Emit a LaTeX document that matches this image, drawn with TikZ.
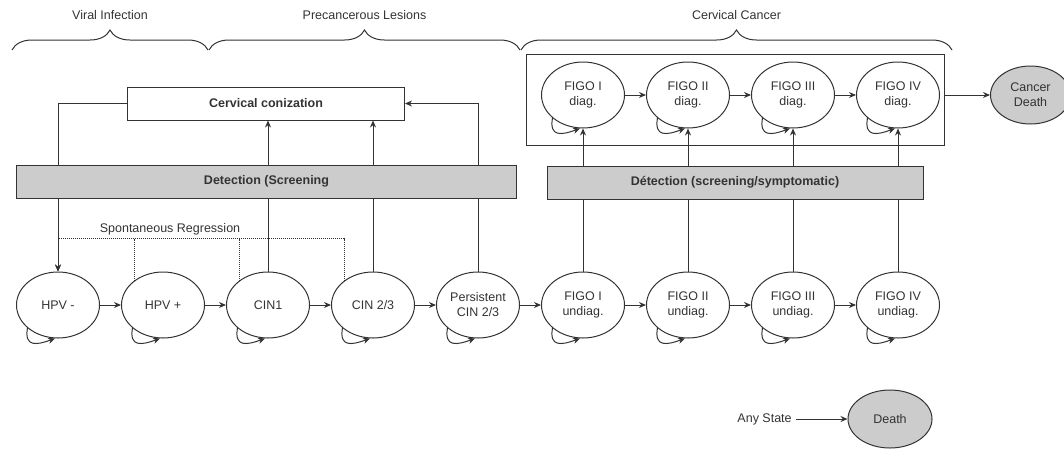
\documentclass[tikz,border=0pt]{standalone}
\usepackage{fontspec}
\setmainfont{Liberation Sans}
\usetikzlibrary{positioning,shapes.geometric,arrows.meta,decorations.pathreplacing}
\tikzset{
	%Diagram styles
	state/.style={
		draw,
		ellipse,
		minimum width=83pt,
		minimum height=66pt,
		inner sep=0pt,
		align=center,
	},
	endstate/.style={
		state,
		fill=gray!40,
		minimum width=80pt,
		minimum height=58pt,
	},
	detection/.style={
		draw,
		rectangle,
		fill=gray!40,
		minimum height=33pt,
		font=\fontsize{12.5}{15}\selectfont\bfseries,
	},
	treatment/.style={
		draw,
		rectangle,
		minimum width=277pt,
		minimum height=33pt,
		font=\fontsize{12.5}{15}\selectfont\bfseries,
	},
	stage/.style={
		decorate,
		decoration={brace, amplitude=20pt},
	},
	selfloop/.style={
		->,
		out=-100,
		in=-160,
		looseness=1.7,
	},
	regression/.style={
		densely dotted,
	},
}

\begin{document}
\begin{tikzpicture}[x=1pt, y=-1pt, node distance=21pt, line width=1pt, color=black!80, >={Stealth[length=7pt,width=6pt]}, font=\fontsize{12.5}{15}\selectfont]
	\useasboundingbox (0,0) rectangle (1064,448);

	% stages
	\draw[stage] (12,50) -- node[above=27pt] (viral) {Viral Infection} (208,50);
	\draw[stage] (209,50) -- node[above=27pt] (lesions) {Precancerous Lesions} (520,50);
	\draw[stage] (521,50) -- node[above=27pt] (cancer) {Cervical Cancer} (952,50);

	% undiagnosed states
	\node[state] (hpvneg) at (58,305) {HPV -};
	\node[state, right=of hpvneg] (hpvpos) {HPV +} edge[<-] (hpvneg);
	\node[state, right=of hpvpos] (cin1) {CIN1} edge[<-] (hpvpos);
	\node[state, right=of cin1] (cin23) {CIN 2/3} edge[<-] (cin1);
	\node[state, right=of cin23] (cinpers) {Persistent\\CIN 2/3} edge[<-] (cin23);
	\node[state, right=of cinpers] (figoIu) {FIGO I\\undiag.} edge[<-] (cinpers);
	\node[state, right=of figoIu] (figoIIu) {FIGO II\\undiag.} edge[<-] (figoIu);
	\node[state, right=of figoIIu] (figoIIIu) {FIGO III\\undiag.} edge[<-] (figoIIu);
	\node[state, right=of figoIIIu] (figoIVu) {FIGO IV\\undiag.} edge[<-] (figoIIIu);

	% diagnosed states
	\node[draw, minimum width=418pt, minimum height=91pt] (diagbox) at (735,99.5) {};
	\node[state, above=143pt of figoIu] (figoId) {FIGO I\\diag.};
	\node[state, right=of figoId] (figoIId) {FIGO II\\diag.} edge[<-] (figoId);
	\node[state, right=of figoIId] (figoIIId) {FIGO III\\diag.} edge[<-] (figoIId);
	\node[state, right=of figoIIId] (figoIVd) {FIGO IV\\diag.} edge[<-] (figoIIId);
	\node[endstate, right=50pt of figoIVd] (cancerdeath) {Cancer\\Death};
	\draw[->] (diagbox.east |- cancerdeath.west) -- (cancerdeath.west);

	% self loops
	\draw[selfloop] (hpvneg.217) to (hpvneg.265);
	\draw[selfloop] (hpvpos.217) to (hpvpos.265);
	\draw[selfloop] (cin1.217) to (cin1.265);
	\draw[selfloop] (cin23.217) to (cin23.265);
	\draw[selfloop] (cinpers.217) to (cinpers.265);
	\draw[selfloop] (figoIu.217) to (figoIu.265);
	\draw[selfloop] (figoIIu.217) to (figoIIu.265);
	\draw[selfloop] (figoIIIu.217) to (figoIIIu.265);
	\draw[selfloop] (figoIVu.217) to (figoIVu.265);
	\draw[selfloop] (figoId.217) to (figoId.265);
	\draw[selfloop] (figoIId.217) to (figoIId.265);
	\draw[selfloop] (figoIIId.217) to (figoIIId.265);
	\draw[selfloop] (figoIVd.217) to (figoIVd.265);

	% spontaneous regression
	\coordinate (regline) at (0,238.5);
	\draw[regression, ->] (cin23.140) |- (hpvneg.north |- regline) -- (hpvneg.north);
	\draw[regression] (hpvpos.140) -- (hpvpos.140 |- regline);
	\draw[regression] (cin1.140) -- (cin1.140 |- regline);
	\node (regtext) at (170,229) {Spontaneous Regression};

	% treatment
	\node[treatment] (conization) at (266,103.5) {Cervical conization};
	\draw[->] (conization.west) -| (hpvneg.north);
	\draw[->] (cin1.north) -- (cin1.north |- conization.south);
	\draw[->] (cin23.north) -- (cin23.north |- conization.south);
	\draw[->] (cinpers.north) |- (conization.east);
	\draw[->] (figoIu.north) -- (figoId.south);
	\draw[->] (figoIIu.north) -- (figoIId.south);
	\draw[->] (figoIIIu.north) -- (figoIIId.south);
	\draw[->] (figoIVu.north) -- (figoIVd.south);

	% detection
	\node[detection, minimum width=500pt] (screening) at (266.5,181.5) {Detection (Screening};
	\node[detection, minimum width=376pt] (symptoms) at (735,182.5) {Détection (screening/symptomatic)};

	% death
	\node[endstate, minimum width=84pt] (death) at (890,419) {Death};
	\node[left=52pt of death] (anystate) {Any State};
	\draw[->] (anystate) -- (death);
\end{tikzpicture}
\end{document}
